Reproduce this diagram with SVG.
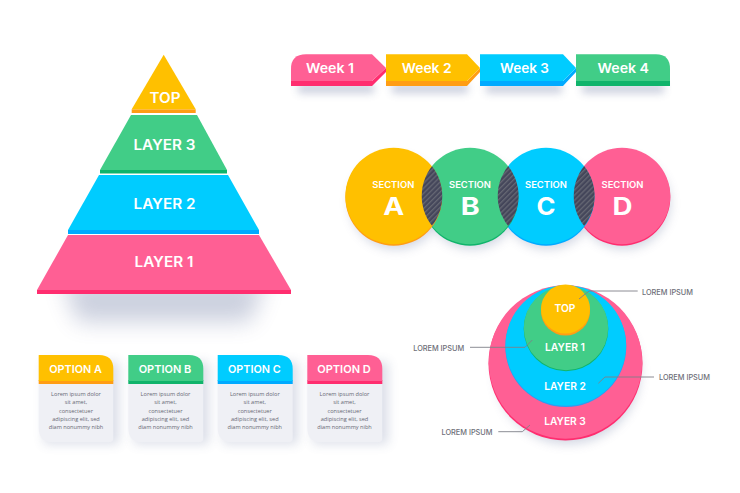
<svg xmlns="http://www.w3.org/2000/svg" width="740" height="493" viewBox="0 0 740 493">
<style>
text{font-family:"Inter","Liberation Sans",sans-serif;font-weight:600;fill:#fff;text-anchor:middle}
.y{fill:#ffc000}.yd{fill:#ff9d14}.g{fill:#41cd87}.gd{fill:#10b46b}.b{fill:#00ccff}.bd{fill:#00aaff}.p{fill:#ff5f94}.pd{fill:#ff2d6f}
.sh{fill:#4a5a8c}
.body{fill:#eff0f5}
.big{font-size:24px;font-weight:700}
.para{font-family:"Open Sans","Liberation Sans",sans-serif;font-weight:400;font-size:5.6px;fill:#666874}
.lab{font-weight:500;font-size:7.3px;fill:#6d6e78}
.lead{fill:none;stroke:#7f8089;stroke-width:.9}
.hatch{fill:url(#hatch)}
.cardsh{fill:#4a5a8c;opacity:.2}
</style>
<defs>
<filter id="blur12" x="-30%" y="-80%" width="160%" height="260%"><feGaussianBlur stdDeviation="11"/></filter>
<filter id="blur4" x="-30%" y="-150%" width="160%" height="400%"><feGaussianBlur stdDeviation="4"/></filter>
<filter id="blur6" x="-40%" y="-30%" width="180%" height="160%"><feGaussianBlur stdDeviation="5.500"/></filter>
<pattern id="hatch" width="3.600" height="3.600" patternUnits="userSpaceOnUse" patternTransform="rotate(-45)">
<rect width="3.600" height="3.600" fill="#44465a"/><rect width="3.600" height="1.300" fill="#666874"/>
</pattern>
<clipPath id="cA"><circle cx="393.700" cy="196" r="48.600"/></clipPath>
<clipPath id="cB"><circle cx="470" cy="196" r="48.600"/></clipPath>
<clipPath id="cC"><circle cx="546" cy="196" r="48.600"/></clipPath>
</defs>

<g id="pyramid-shadow"><polygon class="sh" opacity=".28" points="62,280 266,280 250,322 78,322" filter="url(#blur12)"/></g>
<g id="pyramid-layer1"><rect class="pd" x="37" y="290" width="254" height="4"/><polygon class="p" points="68,235 259,235 291,290 37,290"/><text x="164" y="267" font-size="14" textLength="59" lengthAdjust="spacingAndGlyphs">LAYER 1</text></g>
<g id="pyramid-layer2"><rect class="bd" x="68" y="230" width="191" height="4"/><polygon class="b" points="99,175 228,175 259,230 68,230"/><text x="164.500" y="208.500" font-size="14" textLength="62" lengthAdjust="spacingAndGlyphs">LAYER 2</text></g>
<g id="pyramid-layer3"><rect class="gd" x="100" y="170" width="127" height="3.500"/><polygon class="g" points="131,115 197,115 227,170 100,170"/><text x="164.500" y="150" font-size="14" textLength="62" lengthAdjust="spacingAndGlyphs">LAYER 3</text></g>
<g id="pyramid-top"><rect class="yd" x="131.700" y="109.300" width="64" height="3.700"/><polygon class="y" points="163.700,54.700 195.700,109.300 131.700,109.300"/><text x="165" y="103" font-size="14" textLength="31" lengthAdjust="spacingAndGlyphs">TOP</text></g>

<g id="weeks-shadow" class="sh" opacity=".3" filter="url(#blur4)"><rect x="298" y="84" width="76" height="9"/><rect x="392" y="84" width="76" height="9"/><rect x="486" y="84" width="76" height="9"/><rect x="582" y="84" width="82" height="9"/></g>
<g id="week-1"><path class="pd" d="M291 81H372L386 68V72L372 86H291Z"/><path class="p" d="M291 81V69Q291 54.300 306 54.300H372L386 68L372 81Z"/><text x="330" y="72.500" font-size="13" textLength="48" lengthAdjust="spacingAndGlyphs">Week 1</text></g>
<g id="week-2"><path class="yd" d="M386 81H467L480 68V72L467 86H386Z"/><path class="y" d="M386 54.300H467L480 68L467 81H386Z"/><text x="426.700" y="72.500" font-size="13" textLength="50" lengthAdjust="spacingAndGlyphs">Week 2</text></g>
<g id="week-3"><path class="bd" d="M480 81H563L576 68V72L563 86H480Z"/><path class="b" d="M480 54.300H563L576 68L563 81H480Z"/><text x="524.500" y="72.500" font-size="13" textLength="49" lengthAdjust="spacingAndGlyphs">Week 3</text></g>
<g id="week-4"><path class="gd" d="M576 81H670V86H576Z"/><path class="g" d="M576 54.300H656Q670 54.300 670 69V81H576Z"/><text x="623.300" y="72.500" font-size="13" textLength="51.500" lengthAdjust="spacingAndGlyphs">Week 4</text></g>

<g id="sections-shadow" class="sh" opacity=".25" filter="url(#blur6)"><circle cx="396" cy="203" r="46"/><circle cx="472" cy="203" r="46"/><circle cx="548" cy="203" r="46"/><circle cx="624" cy="203" r="46"/></g>
<g id="section-d"><circle class="pd" cx="622" cy="197.500" r="48.300"/><circle class="p" cx="622" cy="196" r="48.300"/></g>
<g id="section-c"><circle class="bd" cx="546" cy="197.500" r="48.300"/><circle class="b" cx="546" cy="196" r="48.300"/></g>
<g id="section-b"><circle class="gd" cx="470" cy="197.500" r="48.300"/><circle class="g" cx="470" cy="196" r="48.300"/></g>
<g id="section-a"><circle class="yd" cx="393.700" cy="197.500" r="48.300"/><circle class="y" cx="393.700" cy="196" r="48.300"/></g>
<g id="section-overlaps"><circle class="hatch" cx="470" cy="196" r="48.300" clip-path="url(#cA)"/><circle class="hatch" cx="546" cy="196" r="48.300" clip-path="url(#cB)"/><circle class="hatch" cx="622" cy="196" r="48.300" clip-path="url(#cC)"/></g>
<g id="section-labels" font-size="9">
<text x="393.300" y="188" textLength="42" lengthAdjust="spacingAndGlyphs">SECTION</text><text class="big" x="393.700" y="215" textLength="21" lengthAdjust="spacingAndGlyphs">A</text>
<text x="470" y="188" textLength="42" lengthAdjust="spacingAndGlyphs">SECTION</text><text class="big" x="470.300" y="215" textLength="19" lengthAdjust="spacingAndGlyphs">B</text>
<text x="546" y="188" textLength="42" lengthAdjust="spacingAndGlyphs">SECTION</text><text class="big" x="546" y="215" textLength="19" lengthAdjust="spacingAndGlyphs">C</text>
<text x="622.500" y="188" textLength="42" lengthAdjust="spacingAndGlyphs">SECTION</text><text class="big" x="622.500" y="215" textLength="20" lengthAdjust="spacingAndGlyphs">D</text>
</g>

<g id="circles-shadow"><circle class="sh" opacity=".25" cx="568" cy="372" r="72" filter="url(#blur6)"/></g>
<g id="ring-layer3"><circle class="pd" cx="565.500" cy="363.500" r="77"/><circle class="p" cx="565.500" cy="362" r="76.700"/><text x="565" y="425" font-size="10.500" textLength="41.700" lengthAdjust="spacingAndGlyphs">LAYER 3</text></g>
<g id="ring-layer2"><circle fill="#2f9cf0" cx="565.800" cy="346.500" r="60.500"/><circle class="b" cx="565.800" cy="345.500" r="60.300"/><text x="565" y="390" font-size="10.500" textLength="41.700" lengthAdjust="spacingAndGlyphs">LAYER 2</text></g>
<g id="ring-layer1"><circle class="gd" cx="566" cy="329" r="42.300"/><circle class="g" cx="566" cy="328" r="42.200"/><text x="565" y="351" font-size="10.500" textLength="40" lengthAdjust="spacingAndGlyphs">LAYER 1</text></g>
<g id="ring-top"><circle class="yd" cx="565.500" cy="311" r="24.500"/><circle class="y" cx="565.500" cy="309" r="24.500"/><text x="565" y="312" font-size="10.500" textLength="21" lengthAdjust="spacingAndGlyphs">TOP</text></g>
<g id="connectors">
<path class="lead" d="M579 299L589 291H637.700"/>
<path class="lead" d="M470 347.300H525L532.300 340"/>
<path class="lead" d="M654 377H605L598.300 383.300"/>
<path class="lead" d="M498.300 431.700H522.300L530 425"/>
</g>
<g id="ring-labels">
<text class="lab" x="667.500" y="294.800" textLength="51" lengthAdjust="spacingAndGlyphs">LOREM IPSUM</text>
<text class="lab" x="438.700" y="350.800" textLength="51" lengthAdjust="spacingAndGlyphs">LOREM IPSUM</text>
<text class="lab" x="684.500" y="380" textLength="51" lengthAdjust="spacingAndGlyphs">LOREM IPSUM</text>
<text class="lab" x="467" y="434.800" textLength="51" lengthAdjust="spacingAndGlyphs">LOREM IPSUM</text>
</g>

<g id="option-a"><path class="cardsh" filter="url(#blur6)" d="M44 362H119V444H44Z"/><path class="body" d="M38.700 384H113.300V438Q113.300 442.300 109 442.300H53Q38.700 442.300 38.700 428Z"/><rect class="yd" x="38.700" y="380" width="74.600" height="4"/><path class="y" d="M38.700 355H99Q113.300 355 113.300 369V381H38.700Z"/><text x="75.500" y="373.200" font-size="11" textLength="52.700" lengthAdjust="spacingAndGlyphs">OPTION A</text><text class="para" x="76" y="396.200">Lorem ipsum dolor</text><text class="para" x="76" y="404.400">sit amet,</text><text class="para" x="76" y="412.600">consectetuer</text><text class="para" x="76" y="420.900">adipiscing elit, sed</text><text class="para" x="76" y="429.200">diam nonummy nibh</text></g>
<g id="option-b"><path class="cardsh" filter="url(#blur6)" d="M134 362H209V444H134Z"/><path class="body" d="M128.300 384H203.300V438Q203.300 442.300 199 442.300H142.600Q128.300 442.300 128.300 428Z"/><rect class="gd" x="128.300" y="380" width="75" height="4"/><path class="g" d="M128.300 355H189Q203.300 355 203.300 369V381H128.300Z"/><text x="165" y="373.200" font-size="11" textLength="52.700" lengthAdjust="spacingAndGlyphs">OPTION B</text><text class="para" x="165.500" y="396.200">Lorem ipsum dolor</text><text class="para" x="165.500" y="404.400">sit amet,</text><text class="para" x="165.500" y="412.600">consectetuer</text><text class="para" x="165.500" y="420.900">adipiscing elit, sed</text><text class="para" x="165.500" y="429.200">diam nonummy nibh</text></g>
<g id="option-c"><path class="cardsh" filter="url(#blur6)" d="M223 362H298V444H223Z"/><path class="body" d="M217.700 384H292.700V438Q292.700 442.300 288.400 442.300H232Q217.700 442.300 217.700 428Z"/><rect class="bd" x="217.700" y="380" width="75" height="4"/><path class="b" d="M217.700 355H278.400Q292.700 355 292.700 369V381H217.700Z"/><text x="254.300" y="373.200" font-size="11" textLength="52.700" lengthAdjust="spacingAndGlyphs">OPTION C</text><text class="para" x="254.800" y="396.200">Lorem ipsum dolor</text><text class="para" x="254.800" y="404.400">sit amet,</text><text class="para" x="254.800" y="412.600">consectetuer</text><text class="para" x="254.800" y="420.900">adipiscing elit, sed</text><text class="para" x="254.800" y="429.200">diam nonummy nibh</text></g>
<g id="option-d"><path class="cardsh" filter="url(#blur6)" d="M313 362H388V444H313Z"/><path class="body" d="M307.300 384H382.300V438Q382.300 442.300 378 442.300H321.600Q307.300 442.300 307.300 428Z"/><rect class="pd" x="307.300" y="380" width="75" height="4"/><path class="p" d="M307.300 355H368Q382.300 355 382.300 369V381H307.300Z"/><text x="344" y="373.200" font-size="11" textLength="53.500" lengthAdjust="spacingAndGlyphs">OPTION D</text><text class="para" x="344.500" y="396.200">Lorem ipsum dolor</text><text class="para" x="344.500" y="404.400">sit amet,</text><text class="para" x="344.500" y="412.600">consectetuer</text><text class="para" x="344.500" y="420.900">adipiscing elit, sed</text><text class="para" x="344.500" y="429.200">diam nonummy nibh</text></g>
</svg>
